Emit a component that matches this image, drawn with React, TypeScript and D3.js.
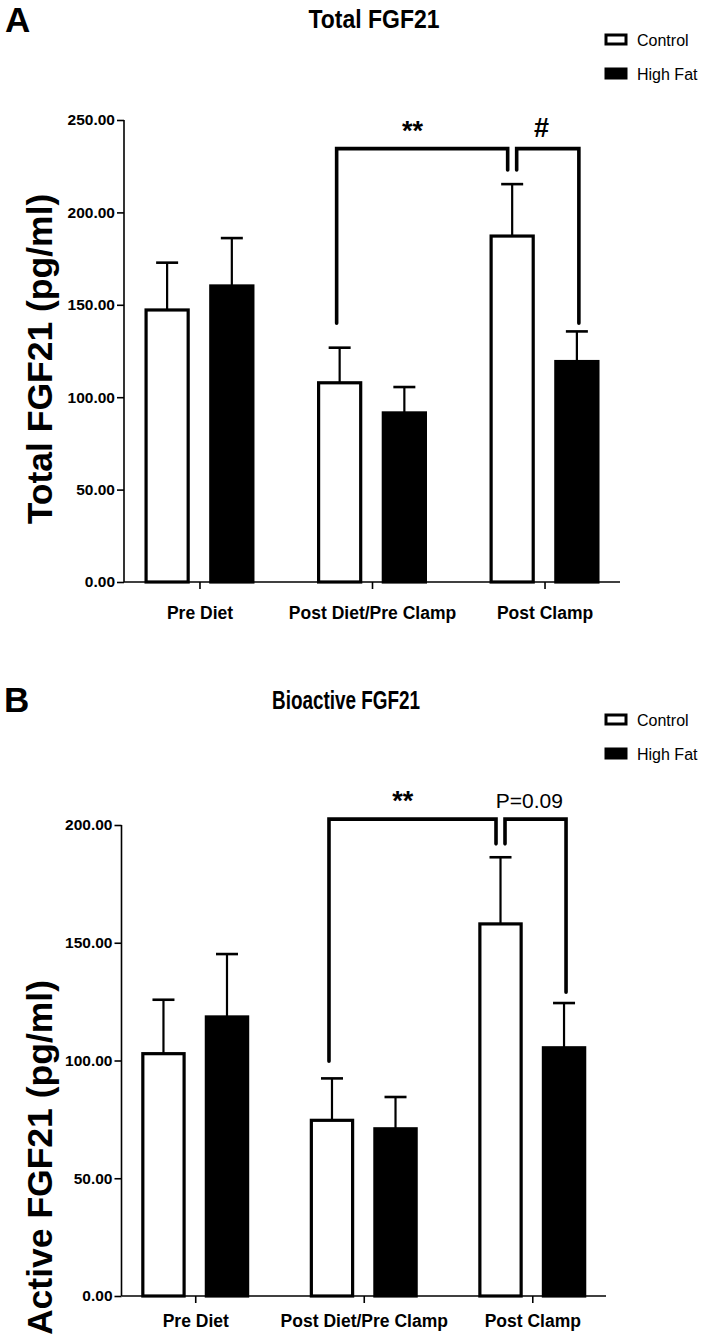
import React, { useEffect, useRef } from 'react';
import * as d3 from 'd3';

const categories = ['Pre Diet', 'Post Diet/Pre Clamp', 'Post Clamp'];
const series = ['Control', 'High Fat'];

// Panel A - total FGF21 (pg/ml), mean and SEM
const totalControl = [147.2, 107.8, 187.2];
const totalControlSem = [25.6, 19.0, 28.1];
const totalHighFat = [160.2, 91.5, 119.3];
const totalHighFatSem = [25.9, 14.0, 16.3];
const totalTicks = [0, 50, 100, 150, 200, 250];

// Panel B - bioactive FGF21 (pg/ml)
const activeControl = [102.9, 74.6, 158.0];
const activeControlSem = [22.9, 17.8, 28.3];
const activeHighFat = [118.5, 71.0, 105.4];
const activeHighFatSem = [26.7, 13.5, 19.0];
const activeTicks = [0, 50, 100, 150, 200];

// brackets: [top, left leg end, inner leg end, right leg end]
const totalBracket = [234.5, 140, 223, 140];
const activeBracket = [202.5, 99.7, 192, 129];

const SANS = "'Liberation Sans', Arial, sans-serif";

function drawPanel(svg, p) {
  const g = svg.append('g');

  const y = d3.scaleLinear().domain(p.domain).range([p.y0, p.yTop]);
  const x = d3.scalePoint().domain(categories).range([p.xAxis, p.xEnd]).padding(0.4375);
  const sub = d3.scaleBand().domain(series).range([-p.half, p.half]).paddingInner(0.3);

  // panel letter and title
  g.append('text')
    .attr('x', p.letterX).attr('y', p.letterY)
    .style('font-family', SANS).style('font-weight', 'bold').style('font-size', '35px')
    .text(p.letter);
  g.append('text')
    .attr('x', p.titleX).attr('y', p.titleY)
    .attr('text-anchor', 'middle')
    .attr('textLength', p.titleLen).attr('lengthAdjust', 'spacingAndGlyphs')
    .style('font-family', SANS).style('font-weight', 'bold').style('font-size', '26px')
    .text(p.title);

  // legend
  series.forEach((s, i) => {
    const ly = p.legendY + i * 34;
    g.append('rect')
      .attr('x', 606).attr('y', ly - 5).attr('width', 20).attr('height', 9)
      .attr('fill', i === 0 ? 'white' : 'black')
      .attr('stroke', 'black').attr('stroke-width', 3);
    g.append('text')
      .attr('x', 637).attr('y', ly).attr('dy', '0.35em')
      .style('font-family', SANS).style('font-size', '16px')
      .text(s);
  });

  // y axis label
  g.append('text')
    .attr('transform', `translate(${p.labelX}, ${(p.y0 + p.yTop) / 2 + p.labelShift}) rotate(-90)`)
    .attr('text-anchor', 'middle')
    .style('font-family', SANS).style('font-weight', 'bold').style('font-size', '35.5px')
    .text(p.yLabel);

  // bars
  const groups = [
    { key: 'Control', mean: p.control, sem: p.controlSem, fill: 'white' },
    { key: 'High Fat', mean: p.highFat, sem: p.highFatSem, fill: 'black' }
  ];
  const sw = 3.2;
  groups.forEach(gr => {
    categories.forEach((c, i) => {
      const cx = x(c) + sub(gr.key) + sub.bandwidth() / 2;
      const top = y(gr.mean[i]);
      const errTop = y(gr.mean[i] + gr.sem[i]);
      // error bar (upper only)
      g.append('line')
        .attr('x1', cx).attr('x2', cx).attr('y1', top).attr('y2', errTop)
        .attr('stroke', 'black').attr('stroke-width', 2.2);
      g.append('line')
        .attr('x1', cx - 11).attr('x2', cx + 11).attr('y1', errTop).attr('y2', errTop)
        .attr('stroke', 'black').attr('stroke-width', 2.6);
      g.append('rect')
        .attr('x', cx - sub.bandwidth() / 2 + sw / 2)
        .attr('y', top)
        .attr('width', sub.bandwidth() - sw)
        .attr('height', p.y0 - top)
        .attr('fill', gr.fill)
        .attr('stroke', 'black')
        .attr('stroke-width', sw);
    });
  });

  // axes
  const yAxis = g.append('g')
    .attr('transform', `translate(${p.xAxis}, 0)`)
    .call(d3.axisLeft(y).tickValues(p.ticks).tickFormat(d3.format('.2f')).tickSize(7).tickSizeOuter(0));
  yAxis.select('.domain').attr('stroke-width', 1.6).attr('d', `M0,${p.y0}V${p.yTop}`);
  yAxis.selectAll('.tick line').attr('stroke-width', 1.6);
  yAxis.selectAll('text')
    .style('font-family', SANS).style('font-weight', 'bold').style('font-size', '15.5px')
    .attr('x', -9);

  const xAxis = g.append('g')
    .attr('transform', `translate(0, ${p.y0})`)
    .call(d3.axisBottom(x).tickSize(7).tickSizeOuter(0).tickPadding(p.catPad));
  xAxis.select('.domain').attr('stroke-width', 1.6).attr('d', `M${p.xAxis},0H${p.xEnd}`);
  xAxis.selectAll('.tick line').attr('stroke-width', 1.6);
  xAxis.selectAll('text')
    .style('font-family', SANS).style('font-weight', 'bold').style('font-size', '17.5px');

  // significance brackets
  const [bTop, bLeft, bInner, bRight] = p.bracket;
  const cCenter = cat => x(cat) + sub('Control') + sub.bandwidth() / 2;
  const hCenter = cat => x(cat) + sub('High Fat') + sub.bandwidth() / 2;
  const xl = cCenter(categories[1]) - 3;
  const xi = cCenter(categories[2]);
  const xr = hCenter(categories[2]) + 2;
  const line = d3.line();
  g.append('path')
    .attr('d', line([[xl, y(bLeft)], [xl, y(bTop)], [xi - 4.5, y(bTop)], [xi - 4.5, y(bInner)]]))
    .attr('fill', 'none').attr('stroke', 'black').attr('stroke-width', 3.6).attr('stroke-linecap', 'round');
  g.append('path')
    .attr('d', line([[xi + 4.5, y(bInner)], [xi + 4.5, y(bTop)], [xr, y(bTop)], [xr, y(bRight)]]))
    .attr('fill', 'none').attr('stroke', 'black').attr('stroke-width', 3.6).attr('stroke-linecap', 'round');

  g.append('text')
    .attr('x', (xl + xi) / 2 - 12).attr('y', y(bTop) - 9)
    .attr('text-anchor', 'middle')
    .style('font-family', SANS).style('font-weight', 'bold').style('font-size', '27px')
    .text('**');
  g.append('text')
    .attr('x', (xi + xr) / 2 - 4).attr('y', y(bTop) - (p.rightBold ? 12 : 11))
    .attr('text-anchor', 'middle')
    .style('font-family', SANS)
    .style('font-weight', p.rightBold ? 'bold' : 'normal')
    .style('font-size', p.rightBold ? '27px' : '21px')
    .text(p.rightMark);
}

const App = () => {
  const svgRef = useRef(null);

  useEffect(() => {
    document.body.style.margin = '0';
    const svg = d3.select(svgRef.current);
    svg.selectAll('*').remove();

    drawPanel(svg, {
      letter: 'A', letterX: 5, letterY: 32,
      title: 'Total FGF21', titleX: 374, titleY: 28, titleLen: 131,
      legendY: 40,
      yLabel: 'Total FGF21 (pg/ml)', labelX: 52, labelShift: 8,
      domain: [0, 250], ticks: totalTicks, catPad: 18,
      y0: 582, yTop: 120, xAxis: 124, xEnd: 620, half: 55,
      control: totalControl, controlSem: totalControlSem,
      highFat: totalHighFat, highFatSem: totalHighFatSem,
      bracket: totalBracket, rightMark: '#', rightBold: true
    });

    drawPanel(svg, {
      letter: 'B', letterX: 4, letterY: 712,
      title: 'Bioactive FGF21', titleX: 346, titleY: 709, titleLen: 148,
      legendY: 720,
      yLabel: 'Active FGF21 (pg/ml)', labelX: 52, labelShift: 97,
      domain: [0, 200], ticks: activeTicks, catPad: 12,
      y0: 1296, yTop: 825, xAxis: 121.5, xEnd: 606, half: 54,
      control: activeControl, controlSem: activeControlSem,
      highFat: activeHighFat, highFatSem: activeHighFatSem,
      bracket: activeBracket, rightMark: 'P=0.09', rightBold: false
    });
  }, []);

  return <svg ref={svgRef} width={711} height={1337} style={{ display: 'block', background: 'white' }}></svg>;
};

export default App;
